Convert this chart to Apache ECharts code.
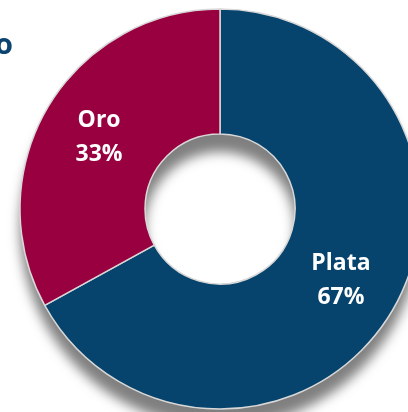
<!DOCTYPE html>
<html>
<head>
<meta charset="utf-8">
<script src="https://cdn.jsdelivr.net/npm/echarts@6/dist/echarts.min.js"></script>
<style>
html, body { margin: 0; padding: 0; background: #fff; }
#chart { width: 408px; height: 412px; }
</style>
</head>
<body>
<div id="chart"></div>
<script>
var categories = ['Plata', 'Oro']
var values = [67, 33]
var colors = ['#07446D', '#990040']

var myChart = echarts.init(document.getElementById('chart'), null, { renderer: 'canvas' })

var data = categories.map(function (name, i) {
    return { name: name, value: values[i], itemStyle: { color: colors[i] } }
})

myChart.setOption({
    animation: false,
    graphic: [{
        type: 'text',
        left: -5,
        top: 31,
        style: {
            text: 'o',
            fill: '#0B4470',
            font: 'bold 29px "Open Sans", sans-serif'
        }
    }],
    series: [
        {
            // shadow ring underneath the slices
            type: 'pie',
            silent: true,
            center: [220, 209],
            radius: [75, 200],
            label: { show: false },
            labelLine: { show: false },
            itemStyle: {
                color: '#fff',
                shadowBlur: 12,
                shadowOffsetX: 0,
                shadowOffsetY: 18,
                shadowColor: 'rgba(0,0,0,0.5)'
            },
            data: [{ value: 1, name: '' }]
        },
        {
            type: 'pie',
            center: [220, 209],
            radius: [75, 200],
            startAngle: 90,
            clockwise: true,
            itemStyle: {
                borderColor: '#d8d8d8',
                borderWidth: 1.5
            },
            label: {
                show: true,
                position: 'inside',
                formatter: function (p) { return p.name + '\n' + p.percent.toFixed(0) + '%' },
                color: '#fff',
                fontFamily: 'Open Sans',
                fontWeight: 'bold',
                fontSize: 23,
                lineHeight: 34
            },
            labelLine: { show: false },
            data: data
        }
    ]
})
</script>
</body>
</html>
